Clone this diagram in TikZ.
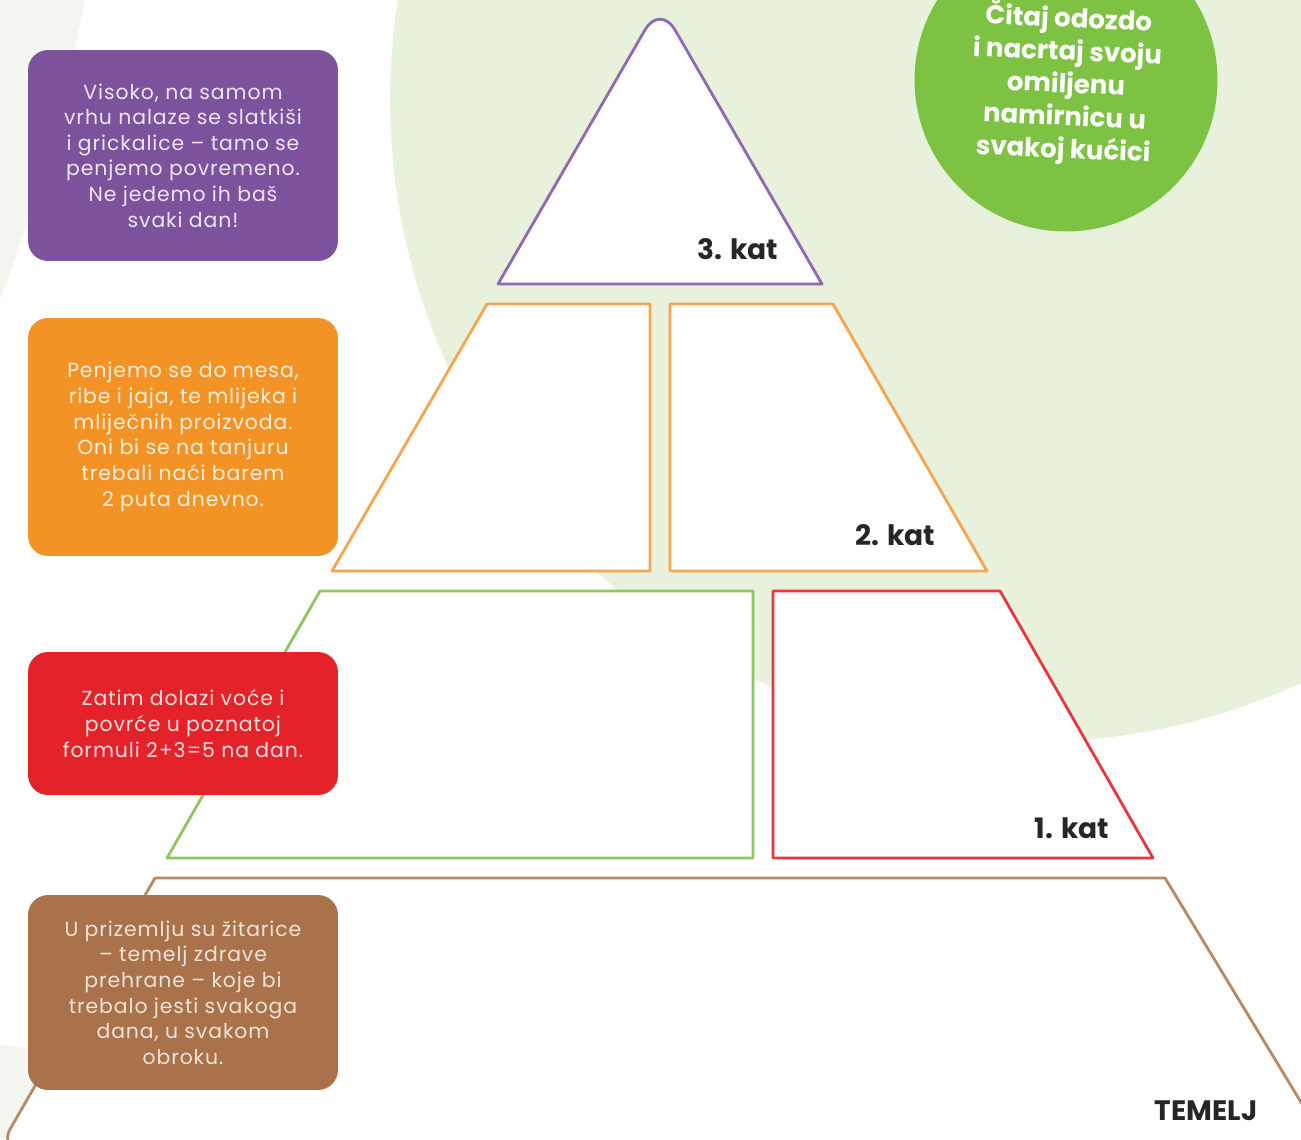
\documentclass[tikz,border=0pt]{standalone}
\usepackage{fontspec}
\setmainfont{Poppins}
\newfontfamily\boxfont{Poppins}[LetterSpace=4.5]
\usetikzlibrary{positioning}
\definecolor{bggreen}{HTML}{E8F1DC}
\definecolor{bgfaint}{HTML}{F2F6EE}
\definecolor{vpurple}{HTML}{7D529D}
\definecolor{vorange}{HTML}{F39325}
\definecolor{vred}{HTML}{E42229}
\definecolor{vbrown}{HTML}{A9724A}
\definecolor{vgreen}{HTML}{7DC243}
\definecolor{lpurple}{HTML}{8E6AB3}
\definecolor{lorange}{HTML}{F6A650}
\definecolor{lgreen}{HTML}{8DC663}
\definecolor{lred}{HTML}{E8373D}
\definecolor{lbrown}{HTML}{B88A63}
\tikzset{
    infobox/.style={rectangle, rounded corners=0.4cm, minimum width=6.2cm, inner sep=0pt, align=center, font=\boxfont\fontsize{11.6}{14.6}\selectfont},
    katlabel/.style={font=\fontsize{16}{19}\selectfont\bfseries, text=black!85},
    floor/.style={fill=white, line width=1.6pt, line join=round},
}

\begin{document}
\begin{tikzpicture}[x=0.02cm, y=-0.02cm]

\useasboundingbox (0,0) rectangle (1301,1139);
\clip (0,0) rectangle (1301,1139);
\fill[white] (0,0) rectangle (1301,1139);

% background shapes
\fill[bgfaint] (0,0) -- (85,0) .. controls (60,120) and (30,220) .. (0,300) -- cycle;
\fill[bgfaint] (0,1045) -- (40,1050) -- (40,1139) -- (0,1139) -- cycle;
\fill[bggreen] (1032,100) circle (12.84cm);

% pyramid floors
\draw[floor, draw=lpurple] (498,284) [rounded corners=0.6cm] -- (660,4) [sharp corners] -- (822,284) -- cycle;
\draw[floor, draw=lorange] (487,304) -- (650,304) -- (650,571) -- (332,571) -- cycle;
\draw[floor, draw=lorange] (670,304) -- (833,304) -- (987,571) -- (670,571) -- cycle;
\draw[floor, draw=lgreen] (320,591) -- (753,591) -- (753,858) -- (167,858) -- cycle;
\draw[floor, draw=lred] (773,591) -- (1000,591) -- (1153,858) -- (773,858) -- cycle;
\draw[floor, draw=lbrown] (1165,878) -- (155,878) [rounded corners=0.5cm] -- (-2,1150) [sharp corners] -- (1330,1150) -- cycle;

\node[katlabel] (kat3) at (738,249) {3. kat};
\node[katlabel] (kat2) at (895,535) {2. kat};
\node[katlabel] (kat1) at (1072,828) {1. kat};
\node[katlabel] (temelj) at (1206,1111) {TEMELJ};

% text boxes on the left
\node[infobox, fill=vpurple, text=white!85!vpurple, minimum height=4.22cm] (sweets) at (183,155.5) {Visoko, na samom\\vrhu nalaze se slatkiši\\i grickalice – tamo se\\penjemo povremeno.\\Ne jedemo ih baš\\svaki dan!};
\node[infobox, fill=vorange, text=white!85!vorange, minimum height=4.76cm] (meat) at (183,437) {Penjemo se do mesa,\\ribe i jaja, te mlijeka i\\mliječnih proizvoda.\\Oni bi se na tanjuru\\trebali naći barem\\2 puta dnevno.};
\node[infobox, fill=vred, text=white!85!vred, minimum height=2.86cm] (fruit) at (183,723.5) {Zatim dolazi voće i\\povrće u poznatoj\\formuli 2+3=5 na dan.};
\node[infobox, fill=vbrown, text=white!80!vbrown, minimum height=3.9cm] (grain) at (183,992.5) {U prizemlju su žitarice\\– temelj zdrave\\prehrane – koje bi\\trebalo jesti svakoga\\dana, u svakom\\obroku.};

% green tip circle
\node[circle, fill=vgreen, minimum size=6.06cm] (tip) at (1066,80) {};
\node[rotate=-2.5, align=center, text=white, font=\fontsize{14.8}{18.6}\selectfont\bfseries] (tiptext) at (1066,84) {Čitaj odozdo\\i nacrtaj svoju\\omiljenu\\namirnicu u\\svakoj kućici};

\end{tikzpicture}
\end{document}
